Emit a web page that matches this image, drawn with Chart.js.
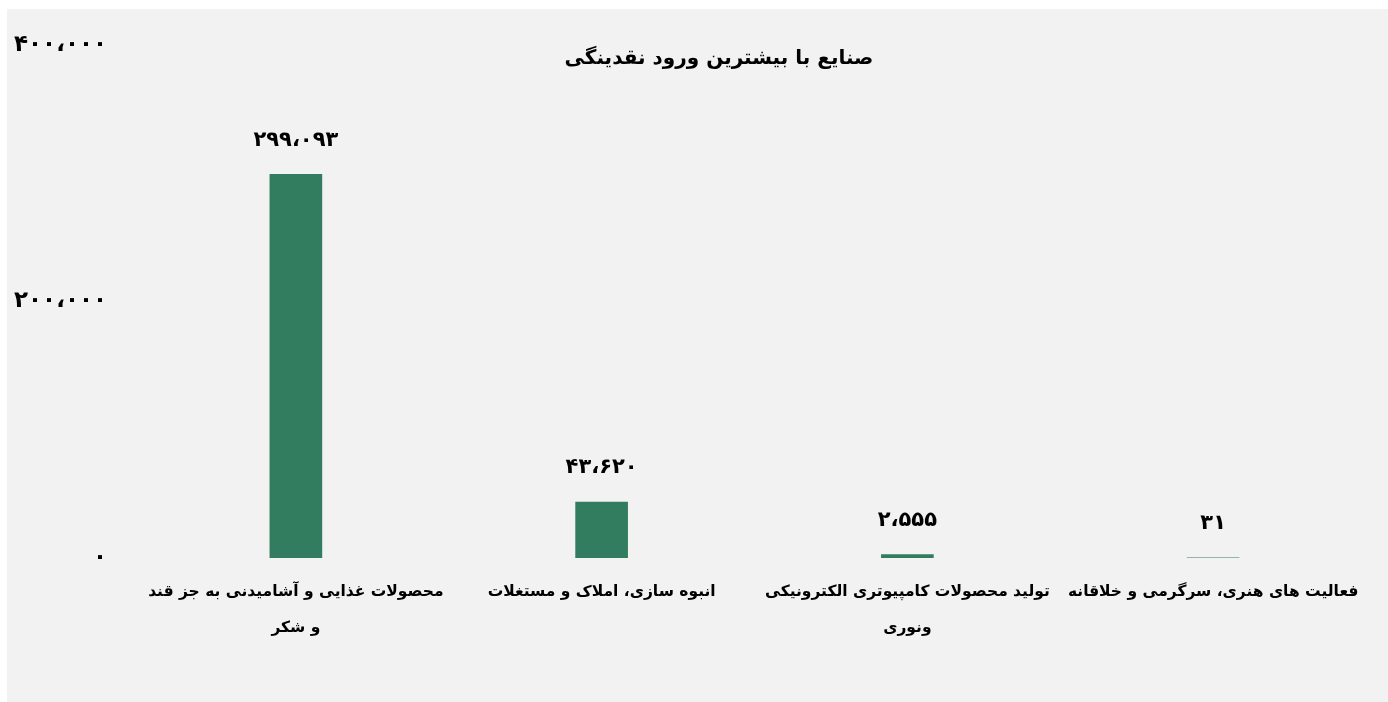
<!DOCTYPE html>
<html>
<head>
<meta charset="utf-8">
<script src="https://cdn.jsdelivr.net/npm/chart.js@4.4.1/dist/chart.umd.min.js"></script>
<style>
  html, body { margin: 0; padding: 0; background: #ffffff; }
  #wrap { position: absolute; left: 7px; top: 9px; width: 1381px; height: 693px; background: #f2f2f2; }
</style>
</head>
<body>
<div id="wrap"><canvas id="chart"></canvas></div>
<script>
const chartTitle = "صنایع با بیشترین ورود نقدینگی";
const categories = [
  ["محصولات غذایی و آشامیدنی به جز قند", "و شکر"],
  ["انبوه سازی، املاک و مستغلات"],
  ["تولید محصولات کامپیوتری الکترونیکی", "ونوری"],
  ["فعالیت های هنری، سرگرمی و خلاقانه"]
];
const values = [299093, 43620, 2555, 31];
const yTicks = [0, 200000, 400000];

const fontFamily = "'DejaVu Sans', 'Noto Sans', sans-serif";
const barColor = "#327c60";

function toPersian(n) {
  const digits = "۰۱۲۳۴۵۶۷۸۹";
  const s = Math.round(n).toString().replace(/\B(?=(\d{3})+(?!\d))/g, "،");
  return s.replace(/\d/g, d => digits[d]);
}

const valueLabels = {
  id: "valueLabels",
  afterDatasetsDraw(chart) {
    const ctx = chart.ctx;
    const meta = chart.getDatasetMeta(0);
    ctx.save();
    ctx.font = "bold 21px " + fontFamily;
    ctx.fillStyle = "#000";
    ctx.textAlign = "center";
    ctx.textBaseline = "middle";
    meta.data.forEach((bar, i) => {
      ctx.fillText(toPersian(values[i]), bar.x, bar.y - 34);
    });
    ctx.restore();
  }
};

const titlePlugin = {
  id: "titlePlugin",
  afterDraw(chart) {
    const ctx = chart.ctx;
    ctx.save();
    ctx.font = "bold 20px " + fontFamily;
    ctx.fillStyle = "#000";
    ctx.textAlign = "center";
    ctx.textBaseline = "middle";
    ctx.fillText(chartTitle, 712, 50);
    ctx.restore();
  }
};

new Chart(document.getElementById("chart"), {
  type: "bar",
  data: {
    labels: categories,
    datasets: [{
      data: values,
      backgroundColor: barColor,
      barThickness: 52
    }]
  },
  options: {
    responsive: true,
    maintainAspectRatio: false,
    animation: false,
    layout: { padding: { top: 6, left: 0, right: 22, bottom: 48 } },
    plugins: {
      legend: { display: false },
      title: { display: false },
      tooltip: { enabled: false }
    },
    scales: {
      x: {
        grid: { display: false },
        border: { display: false },
        ticks: {
          color: "#000",
          padding: 9,
          maxRotation: 0,
          autoSkip: false,
          font: { family: fontFamily, size: 15.5, weight: "bold", lineHeight: 2.26 }
        }
      },
      y: {
        min: 0,
        max: 400000,
        afterBuildTicks(axis) {
          axis.ticks = yTicks.map(v => ({ value: v }));
        },
        afterFit(axis) {
          axis.width = 136;
        },
        grid: { display: false },
        border: { display: false },
        ticks: {
          color: "#000",
          padding: 28,
          font: { family: fontFamily, size: 23, weight: "bold", lineHeight: 0.7 },
          callback: v => toPersian(v)
        }
      }
    }
  },
  plugins: [valueLabels, titlePlugin]
});
</script>
</body>
</html>
